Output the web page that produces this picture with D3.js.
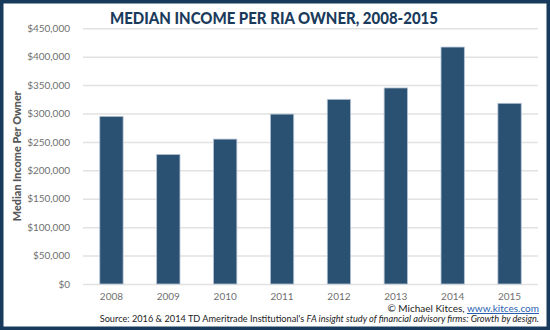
<!DOCTYPE html>
<html>
<head>
<meta charset="utf-8">
<script src="https://cdn.jsdelivr.net/npm/d3@7"></script>
<style>
  html, body { margin: 0; padding: 0; background: #fff; }
  svg { display: block; }
  text { font-family: "Lato", "Open Sans", sans-serif; }
</style>
</head>
<body>
<svg id="chart" width="550" height="330"></svg>
<script>
// Median income per RIA owner, by year
const years = ["2008", "2009", "2010", "2011", "2012", "2013", "2014", "2015"];
const medianIncome = [295000, 228000, 255000, 299000, 325000, 345000, 417000, 318000];
const yTicks = [0, 50000, 100000, 150000, 200000, 250000, 300000, 350000, 400000, 450000];

const W = 550, H = 330;
const margin = { top: 28.3, right: 12, bottom: 46, left: 83 };
const innerW = W - margin.left - margin.right;
const innerH = H - margin.top - margin.bottom;

const svg = d3.select("#chart");

// white card with navy frame
svg.append("rect")
  .attr("x", 1.75).attr("y", 1.75)
  .attr("width", W - 3.5).attr("height", H - 3.5)
  .attr("fill", "#fff")
  .attr("stroke", "#183a5c")
  .attr("stroke-width", 3.5);

const g = svg.append("g").attr("transform", `translate(${margin.left},${margin.top})`);

const x = d3.scaleBand().domain(years).range([0, innerW]).padding(0);
const y = d3.scaleLinear().domain([0, 450000]).range([innerH, 0]);

// horizontal gridlines + y labels
const yAxis = d3.axisLeft(y)
  .tickValues(yTicks)
  .tickSize(-innerW)
  .tickPadding(13)
  .tickFormat(d => "$" + d3.format(",")(d));

const yg = g.append("g").call(yAxis);
yg.select(".domain").remove();
yg.selectAll(".tick line").attr("stroke", "#e2e2e2").attr("stroke-width", 1.5);
yg.selectAll(".tick text")
  .attr("fill", "#707070")
  .style("font-size", "10px")
  .style("font-family", "Lato, sans-serif");

// bars
const barW = x.bandwidth() * 0.41;
g.selectAll("rect.bar")
  .data(years.map((yr, i) => ({ yr, v: medianIncome[i] })))
  .join("rect")
  .attr("class", "bar")
  .attr("x", d => x(d.yr) + (x.bandwidth() - barW) / 2)
  .attr("y", d => y(d.v))
  .attr("width", barW)
  .attr("height", d => innerH - y(d.v))
  .attr("fill", "#2a5072")
  .attr("stroke", "#b3c3d4")
  .attr("stroke-width", 0.8);

// x labels
const xAxis = d3.axisBottom(x).tickSize(0).tickPadding(9);
const xg = g.append("g").attr("transform", `translate(0,${innerH})`).call(xAxis);
xg.select(".domain").remove();
xg.selectAll(".tick text")
  .attr("fill", "#707070")
  .style("font-size", "10px")
  .style("font-family", "Lato, sans-serif");

// y axis title
svg.append("text")
  .attr("transform", `translate(21,${margin.top + innerH / 2}) rotate(-90)`)
  .attr("text-anchor", "middle")
  .attr("fill", "#585858")
  .style("font-size", "11px")
  .style("font-weight", "900")
  .attr("textLength", 130)
  .attr("lengthAdjust", "spacingAndGlyphs")
  .text("Median Income Per Owner");

// chart title
svg.append("text")
  .attr("x", 274).attr("y", 23.5)
  .attr("text-anchor", "middle")
  .attr("fill", "#1b3b5c")
  .style("font-size", "16.5px")
  .style("font-weight", "900")
  .attr("textLength", 328)
  .attr("lengthAdjust", "spacingAndGlyphs")
  .text("MEDIAN INCOME PER RIA OWNER, 2008-2015");

// credit line
const credit = svg.append("text")
  .attr("x", 539).attr("y", 312)
  .attr("text-anchor", "end")
  .attr("fill", "#222")
  .style("font-size", "10px");
credit.append("tspan").text("© Michael Kitces, ");
credit.append("tspan").attr("fill", "#2a5fb0").attr("text-decoration", "underline").text("www.kitces.com");

// source line
const src = svg.append("text")
  .attr("x", 539).attr("y", 321.5)
  .attr("text-anchor", "end")
  .attr("fill", "#222")
  .style("font-size", "9.2px");
src.append("tspan").text("Source: 2016 & 2014 TD Ameritrade Institutional's ");
src.append("tspan").style("font-style", "italic").text("FA insight study of financial advisory firms: Growth by design.");
</script>
</body>
</html>
